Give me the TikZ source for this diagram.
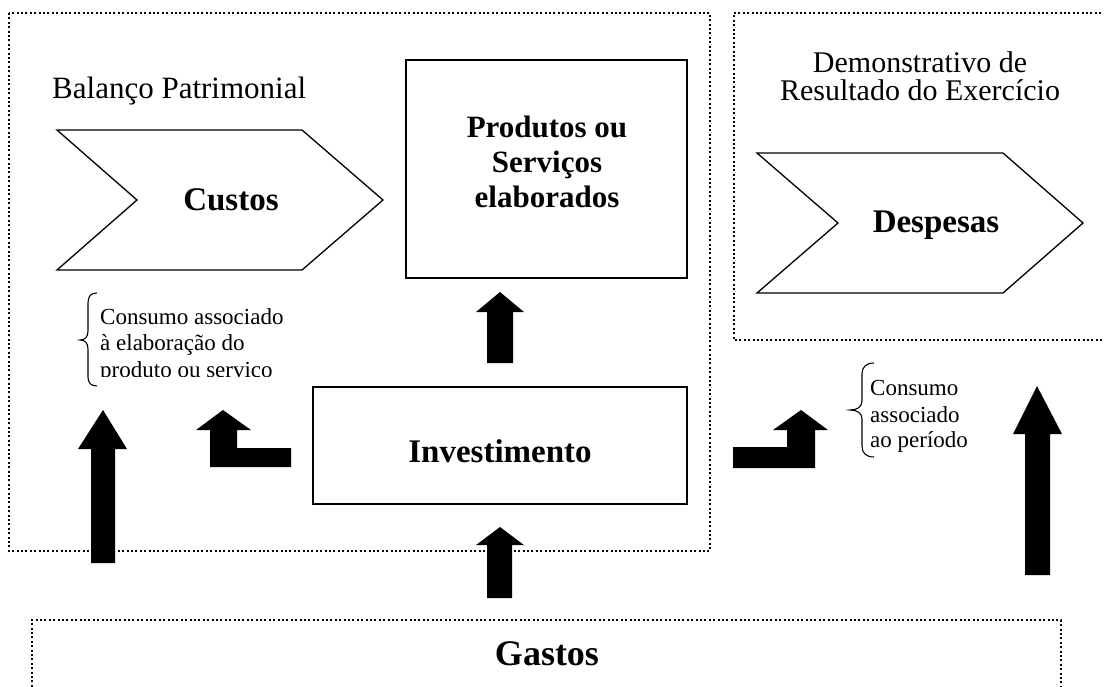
\documentclass[tikz,border=0pt]{standalone}
\usepackage{fontspec}
\setmainfont{Liberation Serif}
\begin{document}
\begin{tikzpicture}[x=1pt,y=-1pt,
  dotbox/.style={line width=2pt,dash pattern=on 2pt off 2.4pt},
  solidbox/.style={draw,line width=1.6pt},
  chev/.style={draw,line width=1.3pt,line join=miter},
  blockarrow/.style={fill=black,draw=none},
  titletext/.style={font=\fontsize{30}{34}\selectfont,inner sep=0pt,anchor=base},
  boldtext/.style={font=\bfseries\fontsize{33}{38}\selectfont,inner sep=0pt,anchor=base},
  prodtext/.style={font=\bfseries\fontsize{31}{35}\selectfont,inner sep=0pt,anchor=base},
  smalltext/.style={font=\fontsize{23}{26}\selectfont,inner sep=0pt,anchor=base west},
  bracepath/.style={line width=1.1pt}]
\useasboundingbox (0,0) rectangle (1104,686);
% dotted frames
\draw[dotbox] (9,13) rectangle (710,551);
\draw[dotbox] (1110,13) -- (734,13) -- (734,340) -- (1110,340);
\draw[dotbox] (32,700) -- (32,620) -- (1061,620) -- (1061,700);
% titles
\node[titletext,anchor=base west,font=\fontsize{31}{34}\selectfont] (bp) at (52,98) {Balanço Patrimonial};
\node[titletext] (dre1) at (920,72) {Demonstrativo de};
\node[titletext] (dre2) at (920,100) {Resultado do Exercício};
% Custos chevron
\draw[chev] (57,130) -- (302,130) -- (383,200) -- (302,270) -- (57,270) -- (137,200) -- cycle;
\node[boldtext] (custos) at (231,210) {Custos};
% Despesas chevron
\draw[chev] (757,153) -- (1003,153) -- (1083,223) -- (1003,293) -- (757,293) -- (838,223) -- cycle;
\node[boldtext] (despesas) at (936,232) {Despesas};
% Produtos box
\draw[solidbox] (406,60) rectangle (687,278);
\node[prodtext] (p1) at (547,137) {Produtos ou};
\node[prodtext] (p2) at (547,172) {Serviços};
\node[prodtext] (p3) at (547,207) {elaborados};
% Investimento box
\draw[solidbox] (313,387) rectangle (687,504);
\node[boldtext] (inv) at (500,462) {Investimento};
% Gastos
\node[boldtext,font=\bfseries\fontsize{36}{40}\selectfont] (gastos) at (547,665) {Gastos};
% braces and notes
\draw[bracepath] (97,293) .. controls (91,293) and (88,296) .. (88,303) -- (88,331) .. controls (88,337) and (85,340) .. (80,340) .. controls (85,340) and (88,343) .. (88,349) -- (88,377) .. controls (88,383) and (91,386) .. (97,386);
\node[smalltext] (c1) at (100,324) {Consumo associado};
\node[smalltext] (c2) at (100,350) {à elaboração do};
\begin{scope}
\clip (95,355) rectangle (330,376);
\node[smalltext] (c3) at (100,377) {produto ou serviço};
\end{scope}
\draw[bracepath] (874,363) .. controls (866,363) and (862,367) .. (862,374) -- (862,401) .. controls (862,407) and (857,410) .. (850,410) .. controls (857,410) and (862,413) .. (862,419) -- (862,446) .. controls (862,453) and (866,457) .. (874,457);
\node[smalltext] (r1) at (870,395) {Consumo};
\node[smalltext] (r2) at (870,422) {associado};
\node[smalltext] (r3) at (870,447) {ao período};
% block arrows
\fill[blockarrow] (487,363) -- (487,312) -- (476,312) -- (500,292) -- (524,312) -- (513,312) -- (513,363) -- cycle;
\fill[blockarrow] (487,598) -- (487,545) -- (476,545) -- (500,527) -- (524,545) -- (512,545) -- (512,598) -- cycle;
\fill[blockarrow] (91,563) -- (91,449) -- (78,449) -- (103,410) -- (127,449) -- (115,449) -- (115,563) -- cycle;
\fill[blockarrow] (1025,575) -- (1025,434) -- (1013,434) -- (1037,386) -- (1062,434) -- (1050,434) -- (1050,575) -- cycle;
\fill[blockarrow] (291,448) -- (237,448) -- (237,430) -- (251,430) -- (223,410) -- (196,430) -- (210,430) -- (210,467) -- (291,467) -- cycle;
\fill[blockarrow] (733,447) -- (787,447) -- (787,430) -- (773,430) -- (801,410) -- (828,430) -- (815,430) -- (815,468) -- (733,468) -- cycle;
\end{tikzpicture}
\end{document}
